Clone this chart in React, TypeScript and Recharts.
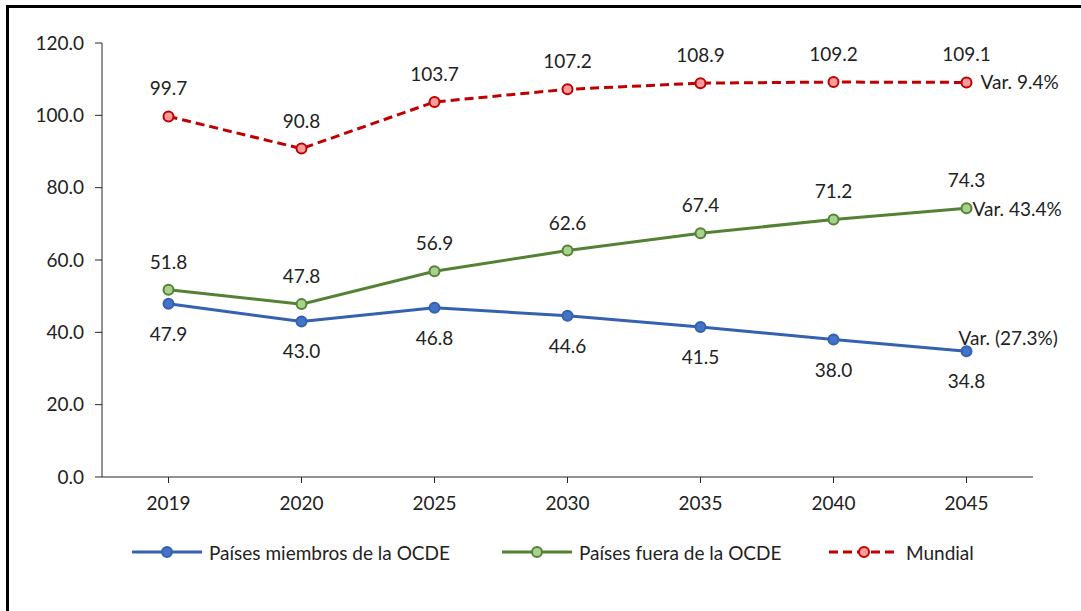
import React from 'react';
import { LineChart, Line, XAxis, YAxis } from 'recharts';

const years = ['2019', '2020', '2025', '2030', '2035', '2040', '2045'];
const ocde = [47.9, 43.0, 46.8, 44.6, 41.5, 38.0, 34.8];
const fueraOcde = [51.8, 47.8, 56.9, 62.6, 67.4, 71.2, 74.3];
const mundial = [99.7, 90.8, 103.7, 107.2, 108.9, 109.2, 109.1];
const yTicks = [0, 20, 40, 60, 80, 100, 120];
const seriesNames = ['Países miembros de la OCDE', 'Países fuera de la OCDE', 'Mundial'];
const varNotes = ['Var. (27.3%)', 'Var. 43.4%', 'Var. 9.4%'];

const data = years.map((y, i) => ({ year: y, ocde: ocde[i], fuera: fueraOcde[i], mundial: mundial[i] }));

const FONT = "Lato, 'Noto Sans', sans-serif";
const FS = 19;
const TEXT = '#222';

const BLUE = '#3461B0';
const BLUE_FILL = '#4472C4';
const GREEN = '#548235';
const GREEN_FILL = '#A9D18E';
const RED = '#C00000';
const RED_FILL = '#FF9B9B';

// builds a label renderer: value above/below the point, plus the "Var." note on the last point
const makeLabel = (below: boolean, note: string, noteDx: number, noteDy: number) => (props: any) => {
  const x = props.x ?? props.viewBox?.x;
  const y = props.y ?? props.viewBox?.y;
  const { value, index } = props;
  if (x == null || y == null) return null;
  return (
    <g>
      <text x={x} y={below ? y + 37 : y - 21} textAnchor="middle" fontSize={FS} fontFamily={FONT} fill={TEXT}>
        {Number(value).toFixed(1)}
      </text>
      {index === years.length - 1 && (
        <text x={x + noteDx} y={y + noteDy} textAnchor="start" fontSize={FS} fontFamily={FONT} fill={TEXT}>
          {note}
        </text>
      )}
    </g>
  );
};

const LegendItem = ({ left, color, fill, dashed, label }: any) => (
  <div style={{ position: 'absolute', left, top: 541, display: 'flex', alignItems: 'center', height: 22 }}>
    <svg width={72} height={16}>
      <line x1={1} y1={8} x2={71} y2={8} stroke={color} strokeWidth={3} strokeDasharray={dashed ? '9 5' : undefined} />
      <circle cx={36} cy={8} r={5} fill={fill} stroke={color} strokeWidth={2} />
    </svg>
    <span style={{ marginLeft: 6, fontFamily: FONT, fontSize: FS, color: TEXT, whiteSpace: 'nowrap' }}>{label}</span>
  </div>
);

export default function App() {
  return (
    <div style={{ position: 'absolute', left: 0, top: 0, width: 1081, height: 611, background: '#fff', overflow: 'hidden' }}>
      <div style={{ position: 'absolute', left: 6, top: 5, width: 1200, height: 800, borderLeft: '3px solid #000', borderTop: '3px solid #000' }} />
      <div style={{ position: 'absolute', left: 0, top: 0 }}>
        <LineChart width={1081} height={611} data={data} margin={{ top: 43, right: 48, left: 0, bottom: 0 }}>
          <XAxis
            dataKey="year"
            height={134}
            padding={{ left: 66.5, right: 66.5 }}
            stroke="#262626"
            tickSize={6}
            tickMargin={14}
            tick={{ fill: TEXT, fontSize: FS, fontFamily: FONT }}
          />
          <YAxis
            width={102}
            domain={[0, 120]}
            ticks={yTicks}
            stroke="#262626"
            tickSize={7}
            tickMargin={11}
            tickFormatter={(v: number) => v.toFixed(1)}
            tick={{ fill: TEXT, fontSize: FS, fontFamily: FONT }}
          />
          <Line
            dataKey="ocde"
            name={seriesNames[0]}
            stroke={BLUE}
            strokeWidth={3}
            dot={{ r: 5, fill: BLUE_FILL, stroke: BLUE, strokeWidth: 2 }}
            isAnimationActive={false}
            label={makeLabel(true, varNotes[0], -8, -6)}
          />
          <Line
            dataKey="fuera"
            name={seriesNames[1]}
            stroke={GREEN}
            strokeWidth={3}
            dot={{ r: 5, fill: GREEN_FILL, stroke: GREEN, strokeWidth: 2 }}
            isAnimationActive={false}
            label={makeLabel(false, varNotes[1], 6, 8)}
          />
          <Line
            dataKey="mundial"
            name={seriesNames[2]}
            stroke={RED}
            strokeWidth={3}
            strokeDasharray="9 5"
            dot={{ r: 5, fill: RED_FILL, stroke: RED, strokeWidth: 2, strokeDasharray: '' }}
            isAnimationActive={false}
            label={makeLabel(false, varNotes[2], 14, 7)}
          />
        </LineChart>
      </div>
      <LegendItem left={131} color={BLUE} fill={BLUE_FILL} label={seriesNames[0]} />
      <LegendItem left={501} color={GREEN} fill={GREEN_FILL} label={seriesNames[1]} />
      <LegendItem left={828} color={RED} fill={RED_FILL} dashed label={seriesNames[2]} />
    </div>
  );
}
